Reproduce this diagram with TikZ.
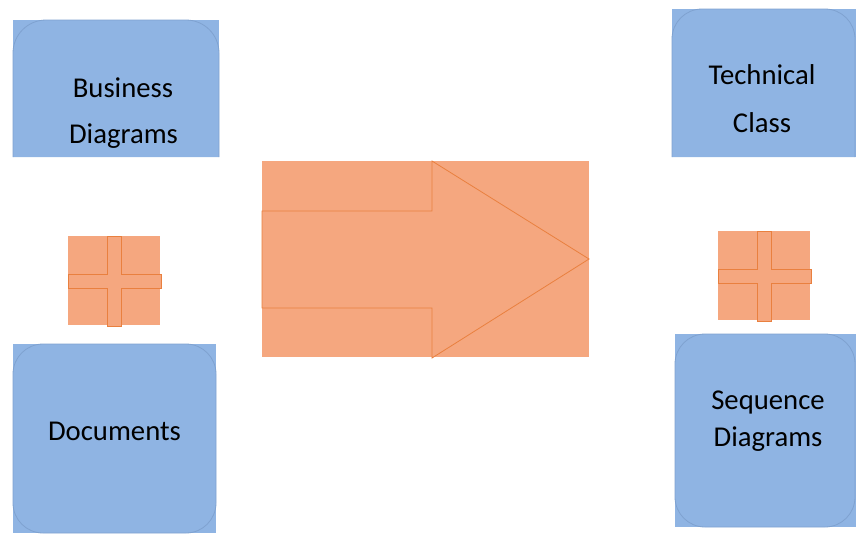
\documentclass[tikz,border=0pt]{standalone}
\usepackage{fontspec}
\setmainfont{Carlito}

\definecolor{boxblue}{HTML}{8FB4E3}
\definecolor{boxline}{HTML}{7FA2D0}
\definecolor{shapefill}{HTML}{F5A77F}
\definecolor{shapeline}{HTML}{E9803F}

\tikzset{
  lbl/.style={font=\fontsize{28.7}{34}\selectfont, anchor=base, inner sep=0pt},
  bluebox/.style={draw=boxline, fill=boxblue, line width=0.8pt},
  orangeshape/.style={draw=shapeline, fill=shapefill, line width=0.8pt}
}

\begin{document}
\begin{tikzpicture}[x=1pt,y=-1pt]
\useasboundingbox (0,0) rectangle (856,533);

% blue boxes
\fill [boxblue] (13,20) rectangle (219,157);
\draw [bluebox, rounded corners=33] (13,157) -- (13,20) -- (219,20) -- (219,157);

\fill [boxblue] (672,9) rectangle (856,157);
\draw [bluebox, rounded corners=30] (672,157) -- (672,9) -- (855,9) -- (855,157);

\fill [boxblue] (13,344) rectangle (216,533);
\draw [bluebox, rounded corners=30] (13,344) rectangle (216,533);

\fill [boxblue] (675,334) rectangle (856,527);
\draw [bluebox, rounded corners=30] (675,334) rectangle (855,527);

% big arrow
\fill [shapefill] (262,161) rectangle (589,357);
\draw [orangeshape] (262,211) -- (432,211) -- (432,161) -- (589,259)
  -- (432,358) -- (432,308) -- (262,308) -- cycle;

% plus signs
\foreach \px/\py in {68/236, 718/231} {
\fill [shapefill] (\px,\py) rectangle (\px+92,\py+89);
\draw [orangeshape] (\px+39,\py) -- (\px+53,\py) -- (\px+53,\py+38)
  -- (\px+93,\py+38) -- (\px+93,\py+52) -- (\px+53,\py+52)
  -- (\px+53,\py+90) -- (\px+39,\py+90) -- (\px+39,\py+52)
  -- (\px,\py+52) -- (\px,\py+38) -- (\px+39,\py+38) -- cycle;
}

% labels
\node [lbl] (bus1) at (123,97) {Business};
\node [lbl] (bus2) at (123.5,143) {Diagrams};

\node [lbl] (tec1) at (762,84) {Technical};
\node [lbl] (tec2) at (762,132) {Class};

\node [lbl] (doc) at (114.5,440) {Documents};

\node [lbl] (seq1) at (768,409) {Sequence};
\node [lbl] (seq2) at (768,446) {Diagrams};

\end{tikzpicture}
\end{document}
